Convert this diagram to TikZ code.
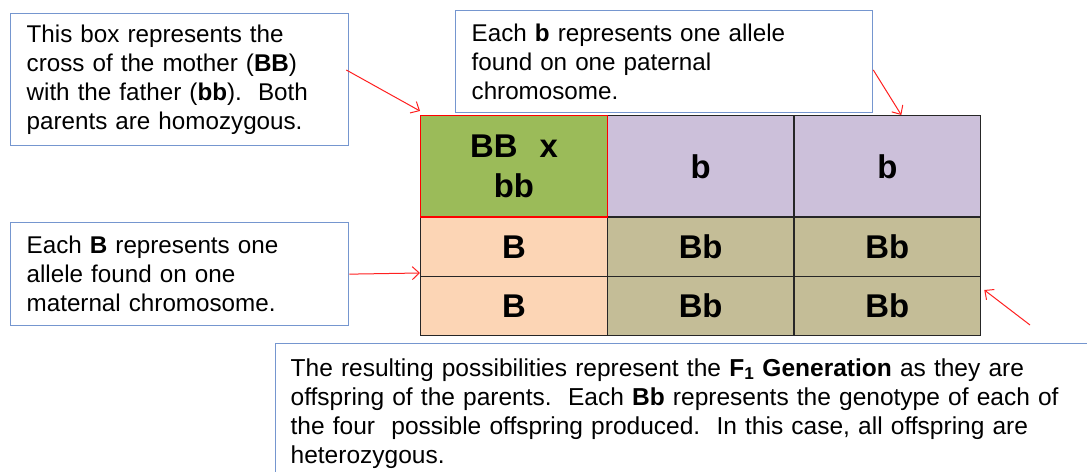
\documentclass[tikz,border=0pt]{standalone}
\usepackage{fontspec}
\setmainfont{Liberation Sans}
\usetikzlibrary{arrows.meta,calc}
\definecolor{boxblue}{HTML}{7596CF}
\definecolor{cgreen}{HTML}{9BBB59}
\definecolor{cpurple}{HTML}{CCC0DA}
\definecolor{cpeach}{HTML}{FCD5B5}
\definecolor{ckhaki}{HTML}{C4BD97}
\definecolor{arrred}{HTML}{FF2020}
\begin{document}
\begin{tikzpicture}[x=1bp,y=-1bp,
  note/.style={draw=boxblue, line width=1.3bp, fill=white, align=left, anchor=north west,
    inner xsep=16bp, inner ysep=0bp, font=\fontsize{24.3}{29}\selectfont},
  cell/.style={draw=black!85, line width=1.3bp, anchor=north west, inner sep=0pt,
    minimum width=186.67bp, font=\bfseries\fontsize{33}{40}\selectfont, align=center},
  arr/.style={draw=arrred, line width=1bp, -{Straight Barb[length=7bp,width=13bp,line width=1bp]}}
]
\useasboundingbox (0,0) rectangle (1087,472);
\fill[white] (0,0) rectangle (1087,472);
% table
\node[cell, fill=cpurple, minimum height=101.5bp] (c12) at (606.67,115) {b};
\node[cell, fill=cpurple, minimum height=101.5bp] (c13) at (793.33,115) {b};
\node[cell, fill=cpeach, minimum height=59.5bp] (c21) at (420,216.5) {B};
\node[cell, fill=ckhaki, minimum height=59.5bp] (c22) at (606.67,216.5) {Bb};
\node[cell, fill=ckhaki, minimum height=59.5bp] (c23) at (793.33,216.5) {Bb};
\node[cell, fill=cpeach, minimum height=59bp] (c31) at (420,276) {B};
\node[cell, fill=ckhaki, minimum height=59bp] (c32) at (606.67,276) {Bb};
\node[cell, fill=ckhaki, minimum height=59bp] (c33) at (793.33,276) {Bb};
\node[cell, fill=cgreen, draw=red, minimum height=101.5bp, text width=150bp] (c11) at (420,115) {BB~~x\\bb};
% notes
\node[note, minimum width=338bp, minimum height=132bp, text width=306bp] (n1) at (10,13)
  {This box represents the\\cross of the mother (\textbf{BB})\\with the father (\textbf{bb}).\ \ Both\\parents are homozygous.};
\node[note, minimum width=417bp, minimum height=102bp, text width=385bp] (n2) at (455,10)
  {Each \textbf{b} represents one allele\\found on one paternal\\chromosome.};
\node[note, minimum width=338bp, minimum height=103bp, text width=306bp] (n3) at (10,222)
  {Each \textbf{B} represents one\\allele found on one\\maternal chromosome.};
\node[note, minimum width=830bp, minimum height=140bp, text width=800bp, inner xsep=15bp,
  font=\fontsize{24.6}{29.3}\selectfont] (n4) at (275,343)
  {The resulting possibilities represent the \textbf{F\textsubscript{1} Generation} as they are\\
   offspring of the parents.\ \ Each \textbf{Bb} represents the genotype of each of\\
   the four\ \ possible offspring produced.\ \ In this case, all offspring are\\
   heterozygous.};
% arrows
\coordinate (a4) at (1030,325);
\draw[arr] ($(n1.north east)+(-3,57)$) -- ($(c11.north west)+(0,-4)$);
\draw[arr] ($(n2.north east)+(0,60)$) -- ($(c13.north)+(14,0)$);
\draw[arr] (n3.east) -- ($(c31.north west)+(0,-3)$);
\draw[arr] (a4) -- ($(c33.north east)+(3,14)$);
\end{tikzpicture}
\end{document}
